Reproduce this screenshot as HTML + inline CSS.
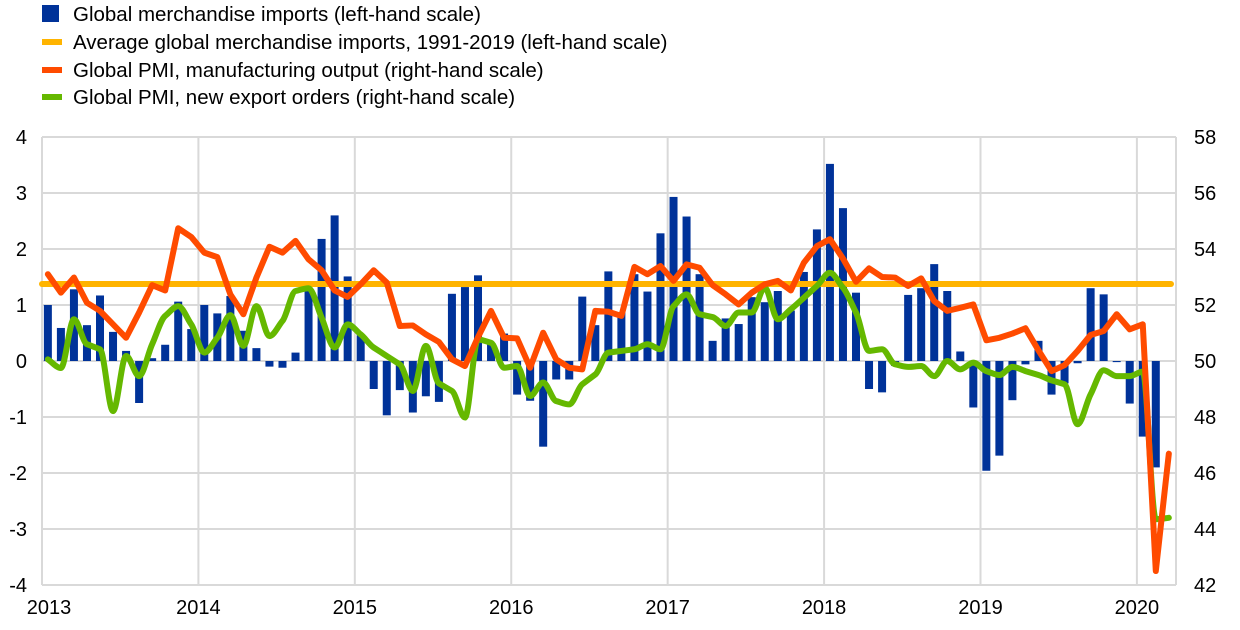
<!DOCTYPE html>
<html><head><meta charset="utf-8"><style>
body{margin:0;background:#fff;}
svg{display:block;font-family:"Liberation Sans",Arial,sans-serif;}
</style></head><body>
<svg id="chart" width="1240" height="630" xmlns="http://www.w3.org/2000/svg">
<g id="legend" font-size="20.5" fill="#000">
  <g><rect x="42" y="5" width="17" height="17" fill="#003299"/><text x="73" y="21">Global merchandise imports (left-hand scale)</text></g>
  <g><rect x="42" y="39" width="20" height="6" fill="#FFB400"/><text x="73" y="49">Average global merchandise imports, 1991-2019 (left-hand scale)</text></g>
  <g><rect x="42" y="67" width="20" height="6" fill="#FF4B00"/><text x="73" y="77">Global PMI, manufacturing output (right-hand scale)</text></g>
  <g><rect x="42" y="94" width="20" height="6" fill="#65B800"/><text x="73" y="104">Global PMI, new export orders (right-hand scale)</text></g>
</g>
<g id="grid"></g>
<g id="bars"></g>
<g id="lines"></g>
<g id="axes" font-size="20" fill="#000"></g>
</svg>
<script>
const yearLabels=["2013","2014","2015","2016","2017","2018","2019","2020"];
const leftTicks=[4,3,2,1,0,-1,-2,-3,-4];
const rightTicks=[58,56,54,52,50,48,46,44,42];
const imports=[1.0,0.59,1.28,0.64,1.17,0.52,0.18,-0.75,0.05,0.29,1.06,0.57,
1.0,0.85,1.16,0.54,0.23,-0.1,-0.12,0.15,1.25,2.18,2.6,1.51,
0.46,-0.5,-0.97,-0.52,-0.92,-0.63,-0.73,1.2,1.32,1.53,0.3,0.49,
-0.6,-0.71,-1.53,-0.33,-0.33,1.15,0.64,1.6,0.87,1.55,1.24,2.28,
2.93,2.58,1.55,0.36,0.76,0.66,1.14,1.05,1.25,0.9,1.59,2.35,
3.52,2.73,1.22,-0.5,-0.56,-0.09,1.18,1.3,1.73,1.25,0.17,-0.83,
-1.96,-1.69,-0.7,-0.06,0.36,-0.6,-0.4,-0.04,1.3,1.19,-0.02,-0.76,
-1.35,-1.9];
const averageImports=1.375;
const pmiOutput=[53.1,52.44,52.98,52.08,51.79,51.31,50.83,51.73,52.71,52.52,54.74,54.43,
53.87,53.71,52.38,51.67,52.98,54.08,53.87,54.29,53.63,53.24,52.52,52.29,
52.74,53.24,52.8,51.25,51.27,50.95,50.68,50.06,49.82,50.85,51.79,50.83,
50.81,49.76,51.01,50.06,49.76,49.7,51.79,51.76,51.61,53.36,53.1,53.39,
52.86,53.45,53.33,52.71,52.38,52.02,52.44,52.74,52.86,52.52,53.51,54.1,
54.35,53.66,52.83,53.31,53.0,52.98,52.68,52.95,52.14,51.79,51.9,52.02,
50.74,50.83,50.98,51.17,50.38,49.64,49.85,50.36,50.93,51.07,51.67,51.13,
51.31,42.5,46.69];
const pmiExport=[50.06,49.75,51.49,50.6,50.42,48.21,50.18,49.46,50.6,51.61,51.96,51.31,
50.3,50.83,51.64,50.54,51.96,50.89,51.43,52.5,52.6,51.55,50.48,51.31,
50.95,50.48,50.18,49.88,48.93,50.54,49.2,48.93,47.98,50.77,50.65,49.76,
49.82,48.75,49.23,48.57,48.45,49.17,49.52,50.3,50.36,50.42,50.6,50.42,
51.96,52.38,51.67,51.57,51.25,51.73,51.73,52.62,51.49,51.85,52.26,52.68,
53.15,52.62,51.73,50.36,50.42,49.88,49.79,49.82,49.46,50.0,49.7,49.94,
49.64,49.5,49.79,49.64,49.5,49.31,49.17,47.74,48.81,49.67,49.46,49.46,
49.62,44.35,44.4];

const NS="http://www.w3.org/2000/svg";
const X0=42,X1=1176,Y0=137,Y1=585,NM=87,MW=(X1-X0)/NM;
const xm=i=>X0+MW*(i+0.45);
const xYear=k=>X0+MW*12*k;
const yL=v=>361-(v)*56;
const yR=v=>361-(v-50)*28;
function mk(tag,attrs,parent){const e=document.createElementNS(NS,tag);for(const k in attrs)e.setAttribute(k,attrs[k]);parent.appendChild(e);return e;}
const grid=document.getElementById('grid'),bars=document.getElementById('bars'),lines=document.getElementById('lines'),axes=document.getElementById('axes');
leftTicks.forEach(v=>{const g=mk('line',{x1:X0,x2:X1,y1:yL(v),y2:yL(v),stroke:'#d9d9d9','stroke-width':2},grid);

});
yearLabels.forEach((s,k)=>{const g=mk('line',{x1:xYear(k),x2:xYear(k),y1:Y0,y2:Y1,stroke:'#d9d9d9','stroke-width':2},grid);

});
mk('line',{x1:X1,x2:X1,y1:Y0,y2:Y1,stroke:'#d9d9d9','stroke-width':2},grid);
imports.forEach((v,i)=>{const y=yL(v),z=yL(0);const r=mk('rect',{x:xm(i)-4,width:8,y:Math.min(y,z),height:Math.max(Math.abs(y-z),0.8),fill:'#003299'},bars);

});
const avg=mk('line',{x1:X0,x2:1171,y1:yL(averageImports),y2:yL(averageImports),stroke:'#FFB400','stroke-width':6,'stroke-linecap':'round'},lines);


function path(arr,color,name,smooth){
  const pts=arr.map((v,i)=>[xm(i),yR(v)]);
  let d='M'+pts[0][0]+','+pts[0][1];
  if(!smooth){for(let i=1;i<pts.length;i++)d+='L'+pts[i][0]+','+pts[i][1];}
  else{
    // monotone-ish tangents to avoid overshoot
    const n=pts.length,m=[];
    for(let i=0;i<n;i++){
      const a=i>0?(pts[i][1]-pts[i-1][1]):null,b=i<n-1?(pts[i+1][1]-pts[i][1]):null;
      if(a===null)m.push(b);else if(b===null)m.push(a);
      else if(a*b<=0)m.push(0);
      else m.push(Math.sign(a)*Math.min(Math.abs(a),Math.abs(b),Math.abs(a+b)/2));
    }
    for(let i=0;i<n-1;i++){const p1=pts[i],p2=pts[i+1],dx=(p2[0]-p1[0])/3;
      d+='C'+(p1[0]+dx)+','+(p1[1]+m[i]/3)+' '+(p2[0]-dx)+','+(p2[1]-m[i+1]/3)+' '+p2[0]+','+p2[1];}
  }
  const p=mk('path',{d:d,fill:'none',stroke:color,'stroke-width':6,'stroke-linejoin':'round','stroke-linecap':'round'},lines);
  
  
}
path(pmiExport,'#65B800','pmi-export-line',true);
path(pmiOutput,'#FF4B00','pmi-output-line',false);
leftTicks.forEach(v=>{const t=mk('text',{x:27,y:yL(v)+7,'text-anchor':'end'},axes);t.textContent=v;

});
rightTicks.forEach(v=>{const t=mk('text',{x:1194,y:yR(v)+7},axes);t.textContent=v;

});
yearLabels.forEach((s,k)=>{const t=mk('text',{x:xYear(k)+(k==0?7:0),y:614,'text-anchor':'middle'},axes);t.textContent=s;

});
</script>
</body></html>
